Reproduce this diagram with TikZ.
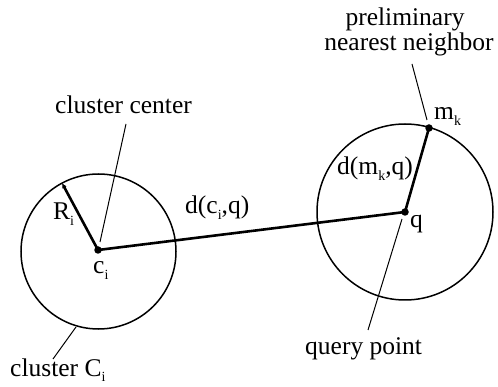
\documentclass[tikz,border=0pt]{standalone}
\usepackage{fontspec}
\setmainfont{Liberation Serif}
\usetikzlibrary{arrows.meta}
\newcommand{\sbi}[1]{\raisebox{-0.2em}{\fontsize{14}{14}\selectfont #1}}
\begin{document}
\begin{tikzpicture}[x=1pt,y=-1pt,
  lbl/.style={font=\fontsize{25.5}{20}\selectfont, inner sep=0pt, anchor=base west},
  thin line/.style={line width=1pt},
  thick line/.style={line width=2.6pt},
  dot/.style={circle, fill=black, inner sep=0pt, minimum size=7.5pt}]
\useasboundingbox (0,0) rectangle (498,387);
% circles
\node[circle, draw, line width=1.5pt, minimum size=155pt, inner sep=0pt] (C1) at (98.5,251.5) {};
\node[circle, draw, line width=1.5pt, minimum size=176pt, inner sep=0pt] (C2) at (405,212) {};
% points
\node[dot] (ci) at (98,250) {};
\node[dot] (q) at (405,212) {};
\node[dot] (mk) at (429,128) {};
\coordinate (rEnd) at (62,183);
% thick lines
\draw[thick line] (ci.center) -- (q.center);
\draw[thick line] (q.center) -- (mk.center);
\draw[thick line, -{Latex[length=5pt,width=5pt]}] (ci.center) -- (rEnd);
% labels
\node[lbl] (Rl) at (53,220) {R\sbi{i}};
\node[lbl] (cil) at (93,274) {c\sbi{i}};
\node[lbl] (dcq) at (185,214) {d(c\sbi{i},q)};
\node[lbl] (dmq) at (337,175) {d(m\sbi{k},q)};
\node[lbl] (ql) at (410,228) {q};
\node[lbl] (mkl) at (434,120) {m\sbi{k}};
\node[lbl] (cc) at (55,114) {cluster center};
\node[lbl] (cC) at (10,376) {cluster C\sbi{i}};
\node[lbl] (qp) at (305,355) {query point};
\node[lbl, anchor=base] (pnn) at (405,26) {preliminary};
\node[lbl, anchor=base] (pnn2) at (409,51) {nearest neighbor};
% leader lines
\coordinate (ccA) at (126,124);
\coordinate (ccB) at (100,242);
\draw[thin line] (ccA) -- (ccB);
\coordinate (cCA) at (76,327);
\coordinate (cCB) at (53,359);
\draw[thin line] (cCA) -- (cCB);
\coordinate (qpA) at (402,219);
\coordinate (qpB) at (368,330);
\draw[thin line] (qpA) -- (qpB);
\coordinate (pnA) at (412,64);
\coordinate (pnB) at (427,120);
\draw[thin line] (pnA) -- (pnB);
\end{tikzpicture}
\end{document}
